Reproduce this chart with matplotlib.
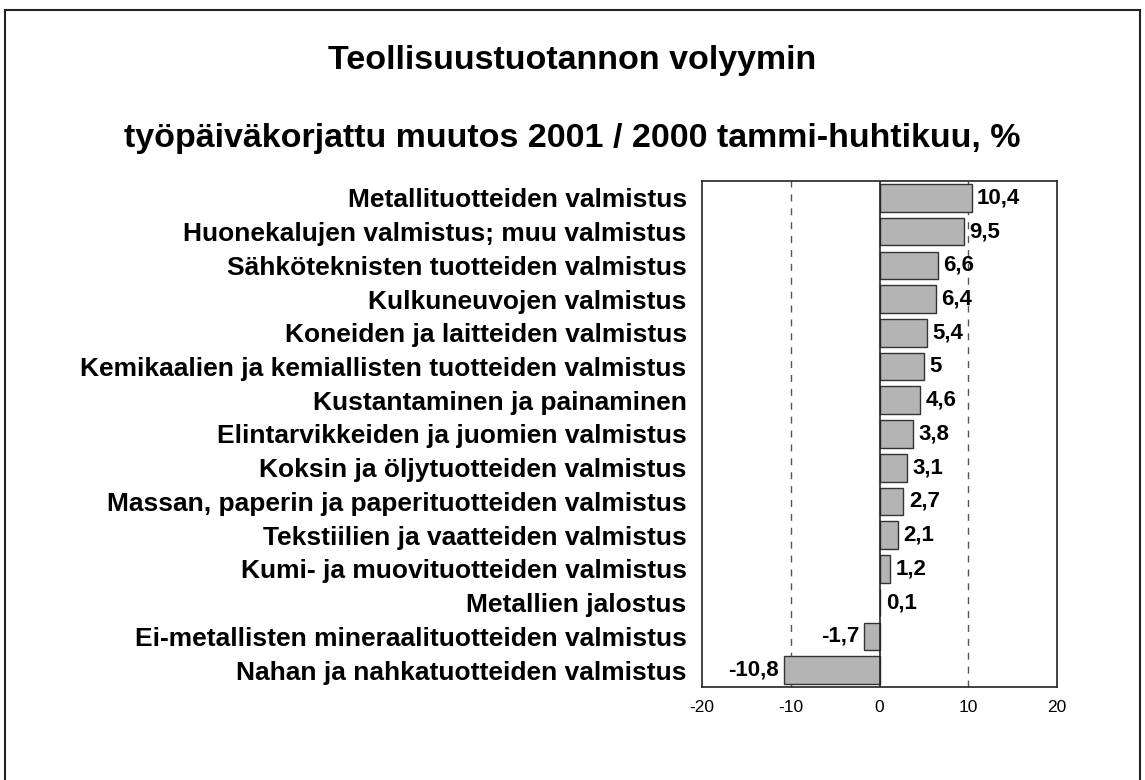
import matplotlib
matplotlib.use("Agg")
import matplotlib.pyplot as plt
from matplotlib.patches import Rectangle

categories = [
    "Metallituotteiden valmistus",
    "Huonekalujen valmistus; muu valmistus",
    "Sähköteknisten tuotteiden valmistus",
    "Kulkuneuvojen valmistus",
    "Koneiden ja laitteiden valmistus",
    "Kemikaalien ja kemiallisten tuotteiden valmistus",
    "Kustantaminen ja painaminen",
    "Elintarvikkeiden ja juomien valmistus",
    "Koksin ja öljytuotteiden valmistus",
    "Massan, paperin ja paperituotteiden valmistus",
    "Tekstiilien ja vaatteiden valmistus",
    "Kumi- ja muovituotteiden valmistus",
    "Metallien jalostus",
    "Ei-metallisten mineraalituotteiden valmistus",
    "Nahan ja nahkatuotteiden valmistus",
]
values = [10.4, 9.5, 6.6, 6.4, 5.4, 5.0, 4.6, 3.8, 3.1, 2.7, 2.1, 1.2, 0.1, -1.7, -10.8]
value_labels = ["10,4", "9,5", "6,6", "6,4", "5,4", "5", "4,6", "3,8", "3,1", "2,7", "2,1", "1,2", "0,1", "-1,7", "-10,8"]
xticks = [-20, -10, 0, 10, 20]

plt.rcParams['font.family'] = ['Liberation Sans', 'DejaVu Sans']

fig = plt.figure(figsize=(11.45, 7.8), dpi=100)
W, H = 1145, 780
fig.patches.append(Rectangle((5 / W, -10 / H), 1135 / W, 780 / H, transform=fig.transFigure,
                             fill=False, edgecolor='#222222', linewidth=1.5))

fig.text(0.5, 1 - 60 / H, "Teollisuustuotannon volyymin", ha='center', va='center',
         fontsize=24.5, fontweight='bold')
fig.text(0.5, 1 - 138 / H, "työpäiväkorjattu muutos 2001 / 2000 tammi-huhtikuu, %",
         ha='center', va='center', fontsize=24.5, fontweight='bold')

left, right, top, bottom = 702, 1057, 181, 687
ax = fig.add_axes([left / W, 1 - bottom / H, (right - left) / W, (bottom - top) / H])

y = list(range(len(categories)))
ax.barh(y, values, height=0.82, color='#b4b4b4', edgecolor='#333333', linewidth=1.0, zorder=3)
ax.set_ylim(len(categories) - 0.5, -0.5)
ax.set_xlim(-20, 20)
ax.set_xticks(xticks)
ax.set_xticklabels([str(t) for t in xticks], fontsize=12.5)
ax.tick_params(axis='x', length=0, pad=9)
ax.set_yticks(y)
ax.set_yticklabels(categories, fontsize=19, fontweight='bold')
ax.tick_params(axis='y', length=0, pad=11)

for xv in (-10, 10):
    ax.axvline(xv, color='#555555', linestyle=(0, (5, 5)), linewidth=1, zorder=1)
ax.axvline(0, color='#222222', linewidth=1.2, zorder=4)

for yi, v, lab in zip(y, values, value_labels):
    if v >= 0:
        ax.text(v + 0.6, yi, lab, ha='left', va='center', fontsize=16, fontweight='bold', zorder=5)
    else:
        ax.text(v - 0.6, yi, lab, ha='right', va='center', fontsize=16, fontweight='bold', zorder=5)

for s in ax.spines.values():
    s.set_linewidth(1.2)
    s.set_color('#222222')

fig.savefig("out.png", dpi=100)
